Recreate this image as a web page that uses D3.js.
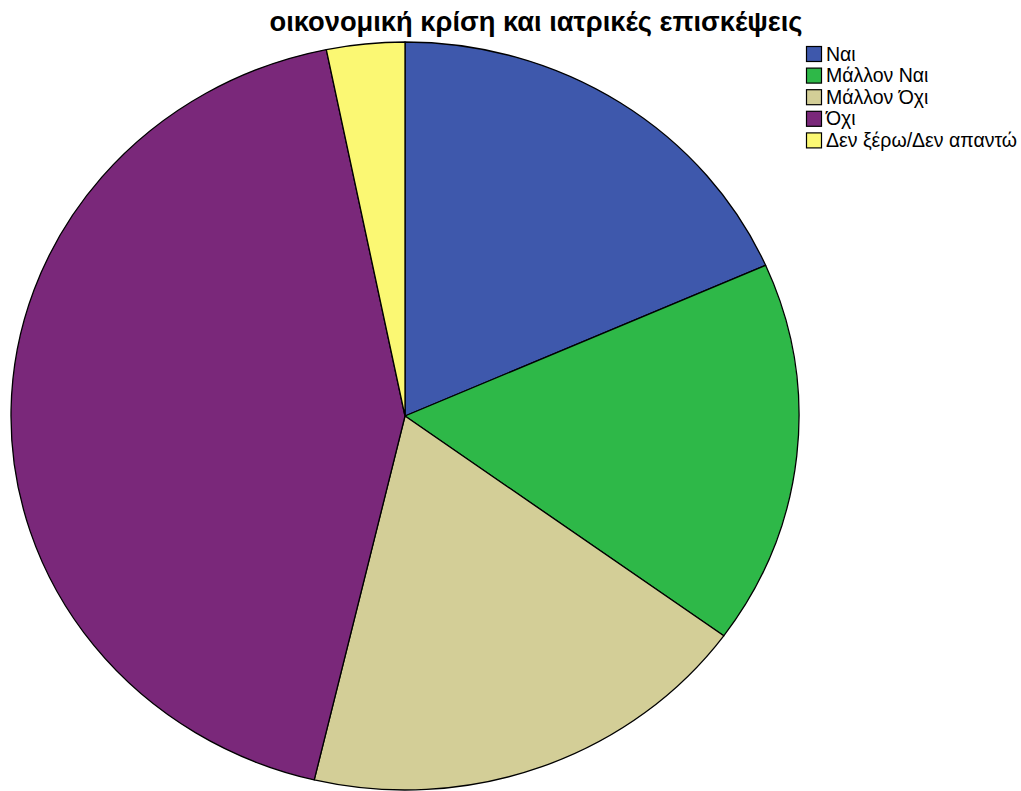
<!DOCTYPE html>
<html>
<head>
<meta charset="utf-8">
<script src="https://cdn.jsdelivr.net/npm/d3@7"></script>
<style>
  html, body { margin: 0; padding: 0; background: #ffffff; }
  svg { display: block; }
</style>
</head>
<body>
<svg id="chart" width="1021" height="791"></svg>
<script>
// Responses to the question (percent of respondents)
const categories = ["Ναι", "Μάλλον Ναι", "Μάλλον Όχι", "Όχι", "Δεν ξέρω/Δεν απαντώ"];
const values = [18.4, 16.6, 18.7, 43.1, 3.2];
const colors = ["#3E58AC", "#2EB848", "#D3CE97", "#7A287A", "#FBF873"];
const title = "οικονομική κρίση και ιατρικές επισκέψεις";

const svg = d3.select("#chart");

// Pie geometry: slightly wider than tall
const cx = 405, cy = 416, rx = 394, ry = 374;

const pie = d3.pie().sort(null).value(d => d.value);
const arc = d3.arc().innerRadius(0).outerRadius(ry);

const data = categories.map((c, i) => ({ name: c, value: values[i], color: colors[i] }));

const g = svg.append("g")
  .attr("transform", `translate(${cx},${cy}) scale(${rx / ry},1)`);

g.selectAll("path")
  .data(pie(data))
  .join("path")
  .attr("d", arc)
  .attr("fill", d => d.data.color)
  .attr("stroke", "#000")
  .attr("stroke-width", 1.3)
  .attr("vector-effect", "non-scaling-stroke")
  .attr("stroke-linejoin", "round");

// Title
svg.append("text")
  .attr("x", 536)
  .attr("y", 31)
  .attr("text-anchor", "middle")
  .attr("font-family", "Liberation Sans, Arial, sans-serif")
  .attr("font-weight", "bold")
  .attr("font-size", 27.3)
  .attr("fill", "#000")
  .text(title);

// Legend
const legend = svg.append("g").attr("transform", "translate(806,46)");
const rows = legend.selectAll("g")
  .data(data)
  .join("g")
  .attr("transform", (d, i) => `translate(0,${i * 21.6})`);

rows.append("rect")
  .attr("x", 0.5).attr("y", 0.5)
  .attr("width", 15).attr("height", 15)
  .attr("fill", d => d.color)
  .attr("stroke", "#000")
  .attr("stroke-width", 1.2);

rows.append("text")
  .attr("x", 20)
  .attr("y", 14.5)
  .attr("font-family", "Liberation Sans, Arial, sans-serif")
  .attr("font-size", 19.5)
  .attr("fill", "#000")
  .text(d => d.name);
</script>
</body>
</html>
